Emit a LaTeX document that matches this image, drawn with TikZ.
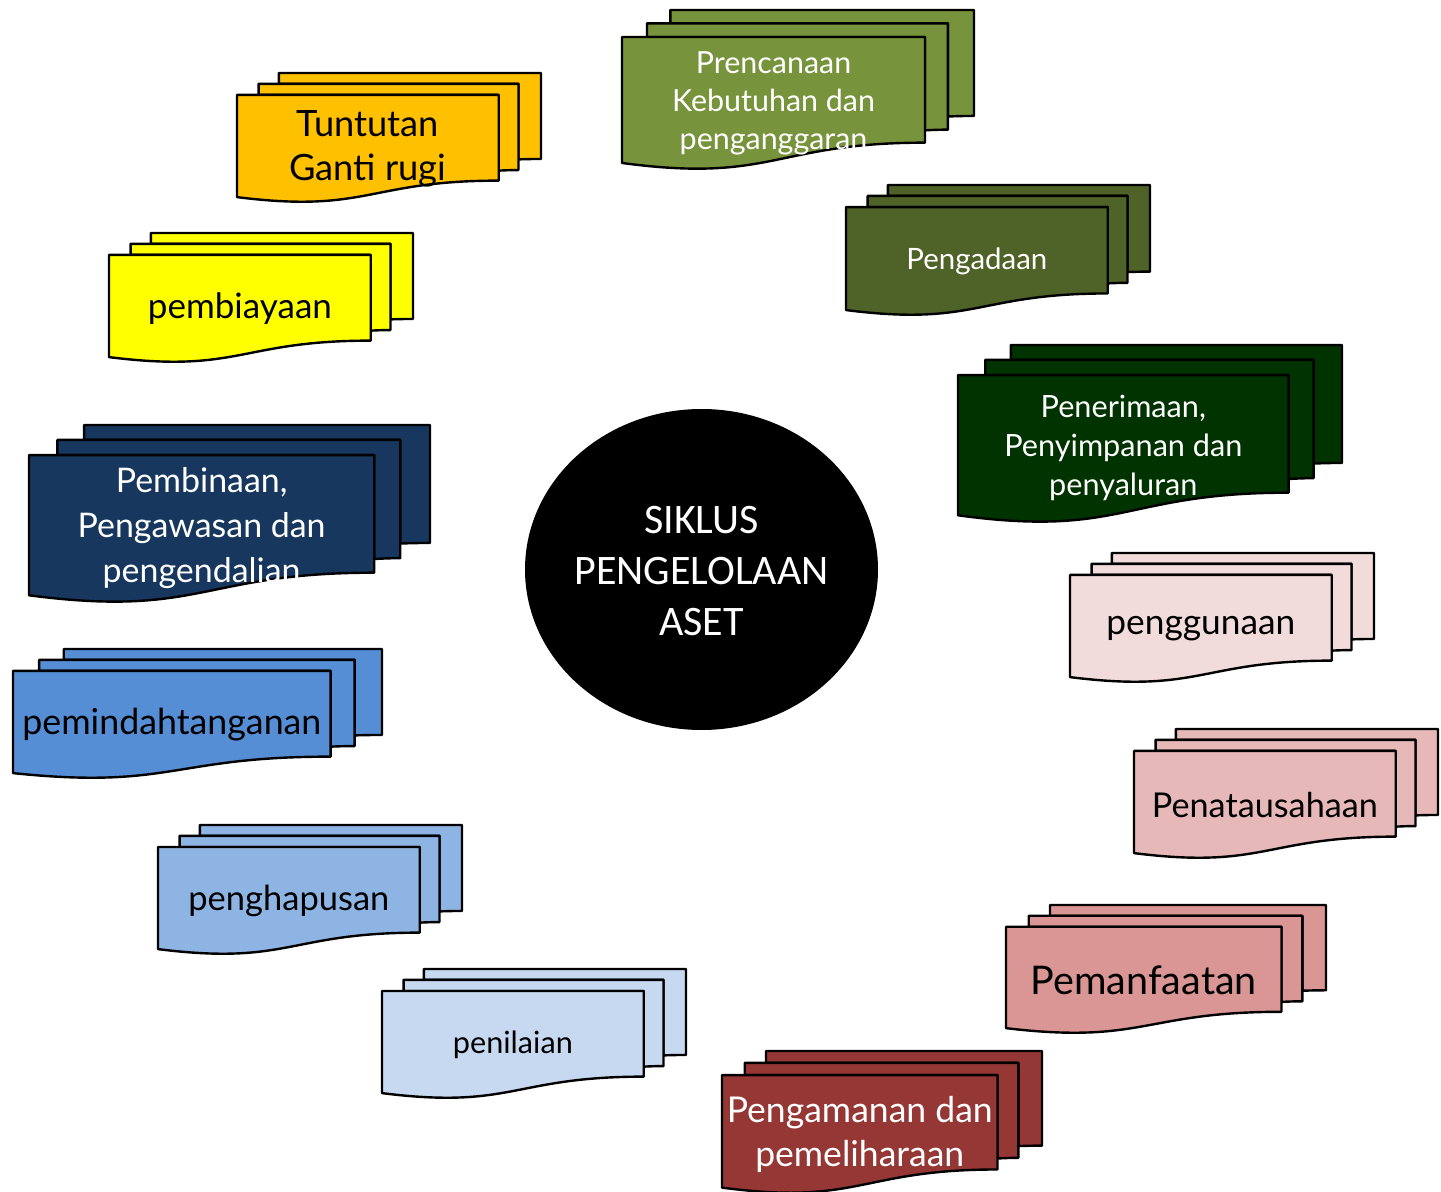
\documentclass[tikz,border=0pt]{standalone}
\usepackage{fontspec}
\usetikzlibrary{shapes.geometric}
\newfontfamily\docfont{Lato}
\newfontfamily\calfont{Carlito}
\definecolor{cA}{HTML}{77933C}
\definecolor{cB}{HTML}{4F6228}
\definecolor{cC}{HTML}{003300}
\definecolor{cD}{HTML}{F2DCDB}
\definecolor{cE}{HTML}{E6B9B8}
\definecolor{cF}{HTML}{D99694}
\definecolor{cG}{HTML}{953735}
\definecolor{cH}{HTML}{C6D9F1}
\definecolor{cI}{HTML}{8EB4E3}
\definecolor{cJ}{HTML}{558ED5}
\definecolor{cK}{HTML}{17375E}
\definecolor{cL}{HTML}{FFFF00}
\definecolor{cM}{HTML}{FFC000}
\newlength\fitlen
\newcommand\fitsize[4]{%
  \setbox0=\hbox{\docfont\fontsize{10pt}{12pt}\selectfont #3}%
  \fitlen=\wd0\relax
  \pgfmathsetmacro\tmpfsz{5*#2/\fitlen}%
  \pgfmathsetmacro\tmplsz{#4*0.5}%
  \expandafter\xdef\csname fsz#1\endcsname{\tmpfsz}%
  \expandafter\xdef\csname lsz#1\endcsname{\tmplsz}%
}
\tikzset{
  docline/.style={draw=black, line width=1.2pt, line join=round},
}
\newcommand\mdoc[8]{%
  \begin{scope}[shift={(#2,#3)}, xscale=#4/216, yscale=#5/216]
    \filldraw[docline, fill=#6] (29.72,18.15) -- (29.72,0) -- (216,0) -- (216,143.92)
      .. controls (208,143.92) and (200,144.67) .. (200,144.67) -- (200,18.15) -- cycle;
    \filldraw[docline, fill=#6] (15.32,36.75) -- (15.32,18.15) -- (200,18.15) -- (200,162.52)
      .. controls (192.98,162.52) and (185.95,163.52) .. (185.95,163.52) -- (185.95,36.75) -- cycle;
    \filldraw[docline, fill=#6] (0,207.82) .. controls (92.98,235.42) and (92.98,180.22) .. (185.95,180.22)
      -- (185.95,36.75) -- (0,36.75) -- cycle;
  \end{scope}
  \node[align=center, inner sep=0pt, text=#7,
        font={\docfont\fontsize{\csname fsz#1\endcsname}{\csname lsz#1\endcsname}\selectfont}]
    (#1) at ({#2+#4*0.4305},{#3+#5*0.5661+3}) {#8};
}
\fitsize{prencanaan}{203}{Kebutuhan dan}{38}
\fitsize{pengadaan}{141}{Pengadaan}{38}
\fitsize{penerimaan}{238}{Penyimpanan dan}{39}
\fitsize{penggunaan}{189}{penggunaan}{38}
\fitsize{penatausahaan}{226}{Penatausahaan}{38}
\fitsize{pemanfaatan}{226}{Pemanfaatan}{38}
\fitsize{pengamanan}{266}{Pengamanan dan}{44}
\fitsize{penilaian}{120}{penilaian}{38}
\fitsize{penghapusan}{201}{penghapusan}{38}
\fitsize{pemindahtanganan}{299}{pemindahtanganan}{38}
\fitsize{pembinaan}{248}{Pengawasan dan}{45}
\fitsize{pembiayaan}{184}{pembiayaan}{38}
\fitsize{tuntutan}{157}{Ganti rugi}{44}
\begin{document}
\begin{tikzpicture}[x=0.5pt, y=-0.5pt]
\useasboundingbox (0,0) rectangle (1441,1192);

\mdoc{prencanaan}{622}{10}{352}{159}{cA}{white}{Prencanaan\\Kebutuhan dan\\penganggaran}
\mdoc{pengadaan}{846}{185}{304}{130}{cB}{white}{Pengadaan}
\mdoc{penerimaan}{958}{345}{384}{177}{cC}{white}{Penerimaan,\\Penyimpanan dan\\penyaluran}
\mdoc{penggunaan}{1070}{553}{304}{129}{cD}{black}{penggunaan}
\mdoc{penatausahaan}{1134}{729}{304}{129}{cE}{black}{Penatausahaan}
\mdoc{pemanfaatan}{1006}{905}{320}{128}{cF}{black}{Pemanfaatan}
\mdoc{pengamanan}{722}{1051}{320}{142}{cG}{white}{Pengamanan dan\\pemeliharaan}
\mdoc{penilaian}{382}{969}{304}{129}{cH}{black}{penilaian}
\mdoc{penghapusan}{158}{825}{304}{129}{cI}{black}{penghapusan}
\mdoc{pemindahtanganan}{13}{649}{369}{129}{cJ}{black}{pemindahtanganan}
\mdoc{pembinaan}{29}{425}{401}{177}{cK}{white}{Pembinaan,\\Pengawasan dan\\pengendalian}
\mdoc{pembiayaan}{109}{233}{304}{129}{cL}{black}{pembiayaan}
\mdoc{tuntutan}{237}{73}{304}{129}{cM}{black}{Tuntutan\\Ganti rugi}

\node[ellipse, fill=black, inner sep=0pt, minimum width=176.5pt, minimum height=160.5pt]
  (siklus) at (701.5,569.5) {};
\node[text=white, align=center, inner sep=0pt, font={\calfont\fontsize{21}{25.5}\selectfont}]
  (sikluslabel) at ([yshift=-1pt]siklus.center) {SIKLUS\\PENGELOLAAN\\ASET};
\end{tikzpicture}
\end{document}
